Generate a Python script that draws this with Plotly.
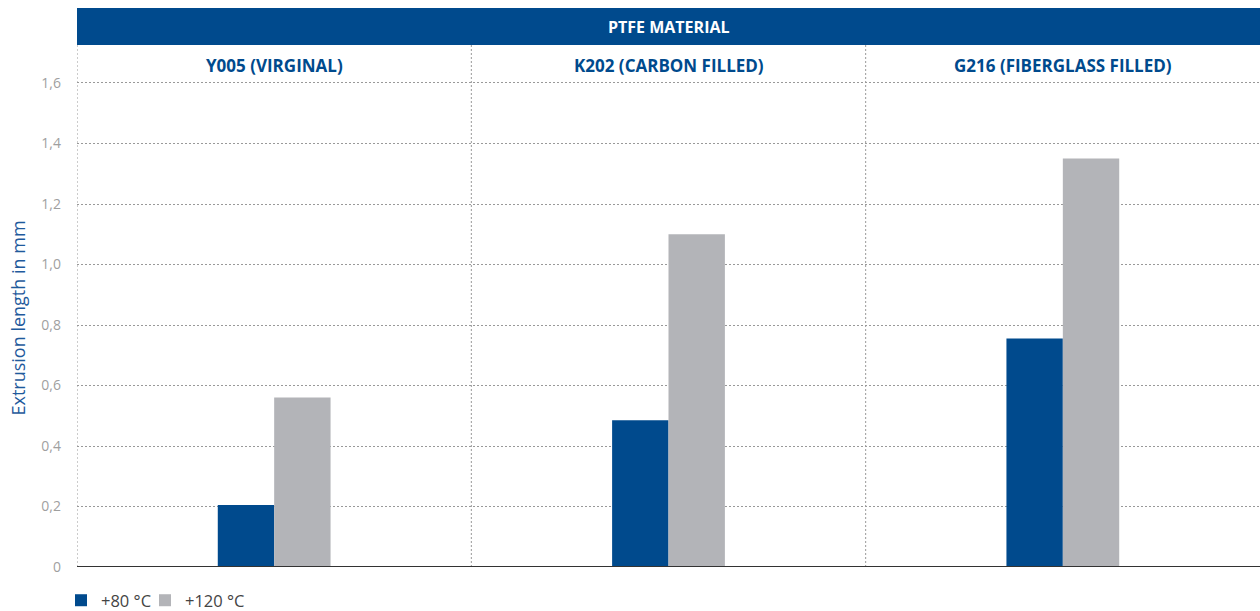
import plotly.graph_objects as go

categories = ["Y005 (VIRGINAL)", "K202 (CARBON FILLED)", "G216 (FIBERGLASS FILLED)"]
series_names = ["+80 °C", "+120 °C"]
values_80 = [0.205, 0.485, 0.755]
values_120 = [0.56, 1.10, 1.35]
tick_vals = [0, 0.2, 0.4, 0.6, 0.8, 1.0, 1.2, 1.4, 1.6]
tick_text = ["0", "0,2", "0,4", "0,6", "0,8", "1,0", "1,2", "1,4", "1,6"]
header = "PTFE MATERIAL"
y_title = "Extrusion length in mm"

BLUE = "#004a8d"
GREY = "#b3b4b8"
FONT = "Open Sans"

W, H = 1260, 611
L, R, T, B = 77, 0, 45, 44
PH = H - T - B
PW = W - L - R

fig = go.Figure()
fig.add_trace(go.Bar(x=categories, y=values_80, name=series_names[0], legend="legend",
                     marker=dict(color=BLUE, line=dict(width=0))))
fig.add_trace(go.Bar(x=categories, y=values_120, name=series_names[1], legend="legend2",
                     marker=dict(color=GREY, line=dict(width=0))))

leg_common = dict(orientation="h", y=-16 / PH, xanchor="left", yanchor="top",
                  font=dict(size=16.5, color="#444444", family=FONT), itemwidth=30,
                  itemclick=False, itemdoubleclick=False,
                  bgcolor="rgba(0,0,0,0)", borderwidth=0)

ymax = 1.7256
fig.update_layout(
    width=W, height=H,
    margin=dict(l=L, r=R, t=T, b=B, pad=0, autoexpand=False),
    plot_bgcolor="white", paper_bgcolor="white",
    barmode="group", bargap=0.714, bargroupgap=0,
    font=dict(family=FONT, color="#999999", size=14),
    showlegend=True,
    legend=dict(x=-16 / PW, **leg_common),
    legend2=dict(x=68 / PW, **leg_common),
    xaxis=dict(showticklabels=False, showgrid=False, zeroline=False, ticks="",
               range=[-0.5, 2.5], fixedrange=True),
    yaxis=dict(range=[0, ymax], tickvals=tick_vals, ticktext=tick_text,
               showgrid=True, gridcolor="#999999", griddash="2px,2px", gridwidth=1,
               zeroline=False, showline=False, ticks="", ticklabelstandoff=15,
               tickfont=dict(size=14, color="#9f9f9f")),
)

shapes = []
# header bar
shapes.append(dict(type="rect", xref="paper", yref="paper", x0=0, x1=1, y0=1, y1=1 + 37 / PH,
                   fillcolor=BLUE, line=dict(width=0), layer="above"))
# vertical dotted separators
for xv in [-0.5, 0.5, 1.5]:
    shapes.append(dict(type="line", xref="x", yref="paper", x0=xv, x1=xv, y0=0, y1=1,
                       line=dict(color="#999999", width=1, dash="2px,2px"), layer="below"))
# baseline
shapes.append(dict(type="line", xref="paper", yref="y", x0=0, x1=1, y0=0, y1=0,
                   line=dict(color="#333333", width=2), layer="above"))
fig.update_layout(shapes=shapes)

annotations = [dict(text="<b>%s</b>" % header, xref="paper", yref="paper", x=0.5, y=1 + 18.5 / PH,
                    showarrow=False, font=dict(size=16, color="white", family=FONT), yanchor="middle")]
for i, c in enumerate(categories):
    annotations.append(dict(text="<b>%s</b>" % c, xref="x", yref="paper", x=i, y=1 - 20 / PH,
                            showarrow=False, yanchor="middle",
                            font=dict(size=17, color=BLUE, family=FONT)))
# y-axis title
annotations.append(dict(text=y_title, xref="paper", yref="paper", x=(17.5 - L) / PW,
                        y=1 - (318 - T) / PH, textangle=-90, showarrow=False,
                        xanchor="center", yanchor="middle",
                        font=dict(size=18, color="#1f5a9c", family=FONT)))
fig.update_layout(annotations=annotations)

fig.write_html("out.html", config={"displayModeBar": False},
               post_script="document.body.style.margin='0';document.body.style.overflow='hidden';")
